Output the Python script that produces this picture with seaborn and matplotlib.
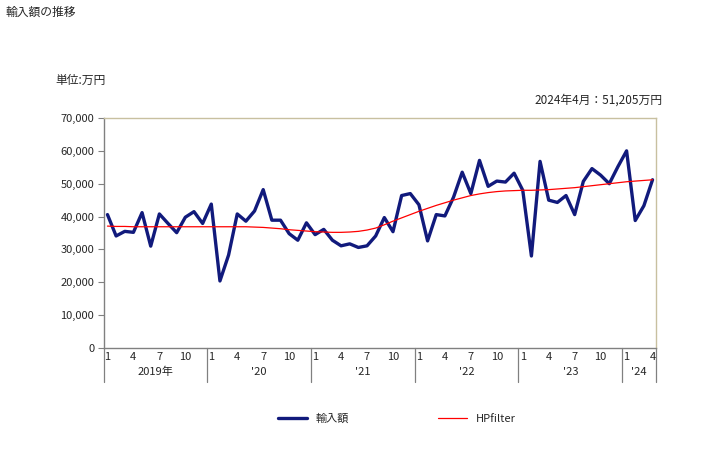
import numpy as np
import pandas as pd
import matplotlib
matplotlib.use("Agg")
import matplotlib.pyplot as plt
import matplotlib.transforms as mtransforms
from matplotlib.ticker import FuncFormatter
import seaborn as sns

# monthly import value (万円), Jan 2019 - Apr 2024
years = [2019, 2020, 2021, 2022, 2023, 2024]
year_labels = ["2019年", "'20", "'21", "'22", "'23", "'24"]
imports = [
    40600, 34100, 35500, 35200, 41200, 31000, 40800, 37900, 35100, 39800, 41500, 37900,
    43800, 20400, 28300, 40800, 38600, 41700, 48200, 38900, 38900, 34800, 32800, 38100,
    34500, 36100, 32800, 31100, 31700, 30600, 31100, 34100, 39700, 35400, 46400, 47000,
    43600, 32600, 40600, 40200, 45900, 53500, 47000, 57100, 49200, 50800, 50500, 53200,
    48000, 28000, 56800, 45000, 44300, 46400, 40600, 50700, 54600, 52600, 50000, 55200,
    60000, 38800, 43300, 51205,
]
hp_filter = [
    37100, 37000, 37000, 36900, 36900, 36900, 36900, 36900, 36900, 36900, 36900, 36900,
    36900, 36900, 36900, 36900, 36900, 36800, 36700, 36500, 36300, 36000, 35800, 35600,
    35400, 35300, 35200, 35200, 35300, 35500, 35900, 36500, 37500, 38600, 39600, 40600,
    41600, 42500, 43400, 44200, 45000, 45700, 46400, 46900, 47300, 47600, 47800, 47900,
    48000, 48000, 48100, 48200, 48400, 48600, 48800, 49100, 49400, 49700, 50000, 50300,
    50600, 50800, 51000, 51200,
]

months = [m for y in years for m in range(1, 13)][:len(imports)]
df = pd.DataFrame({"idx": np.arange(len(imports)), "month": months,
                   "輸入額": imports, "HPfilter": hp_filter})

sns.set_style("white")
plt.rcParams["font.family"] = ["Noto Sans CJK JP", "DejaVu Sans"]
plt.rcParams["font.size"] = 8

fig = plt.figure(figsize=(7.28, 4.5), dpi=100)
ax = fig.add_axes([104 / 728, 1 - 348 / 450, (656 - 104) / 728, (348 - 118) / 450])

sns.lineplot(data=df, x="idx", y="輸入額", color="#111a7c", linewidth=2.4,
             ax=ax, label="輸入額")
sns.lineplot(data=df, x="idx", y="HPfilter", color="#ff0000", linewidth=0.9,
             ax=ax, label="HPfilter")

x_left, x_right = -0.4, len(imports) - 1 + 0.4
ax.set_xlim(x_left, x_right)
ax.set_ylim(0, 70000)
ax.set_yticks(np.arange(0, 70001, 10000))
ax.yaxis.set_major_formatter(FuncFormatter(lambda v, p: f"{int(v):,}"))
ax.tick_params(axis="y", direction="out", length=4, width=0.8, color="#808080",
               labelsize=8, pad=3, left=True)

tick_pos = df.loc[df["month"].isin([1, 4, 7, 10]), "idx"].tolist()
tick_lab = df.loc[df["month"].isin([1, 4, 7, 10]), "month"].astype(str).tolist()
ax.set_xticks(tick_pos)
ax.set_xticklabels(tick_lab)
ax.tick_params(axis="x", length=0, labelsize=8, pad=3)
ax.set_xlabel("")
ax.set_ylabel("")

for side in ["left", "bottom"]:
    ax.spines[side].set_color("#808080")
    ax.spines[side].set_linewidth(1.0)
for side in ["top", "right"]:
    ax.spines[side].set_color("#c8c0a0")
    ax.spines[side].set_linewidth(1.0)

# year separators and year labels below the month labels
trans = mtransforms.blended_transform_factory(ax.transData, ax.transAxes)
ybot = -(382 - 348) / 230
bounds = [x_left] + [i * 12 - 0.5 for i in range(1, len(years))] + [x_right]
for b in bounds:
    ax.plot([b, b], [0, ybot], transform=trans, color="#808080", lw=0.9, clip_on=False)
for i, lab in enumerate(year_labels):
    ax.text((bounds[i] + bounds[i + 1]) / 2, -(372 - 348) / 230, lab, transform=trans,
            ha="center", va="center", fontsize=8)

ax.legend_.remove()
handles, labels = ax.get_legend_handles_labels()
fig.legend(handles, labels, loc="center", bbox_to_anchor=(397 / 728, 1 - 419 / 450),
           ncol=2, frameon=False, handlelength=2.6, columnspacing=8, fontsize=8)

fig.text(5 / 728, 1 - 12 / 450, "輸入額の推移", ha="left", va="center", fontsize=8.5)
fig.text(55 / 728, 1 - 80 / 450, "単位:万円", ha="left", va="center", fontsize=8.5)
fig.text(662 / 728, 1 - 100 / 450, "2024年4月：51,205万円", ha="right", va="center",
         fontsize=8.5)

fig.savefig("out.png", dpi=100)
